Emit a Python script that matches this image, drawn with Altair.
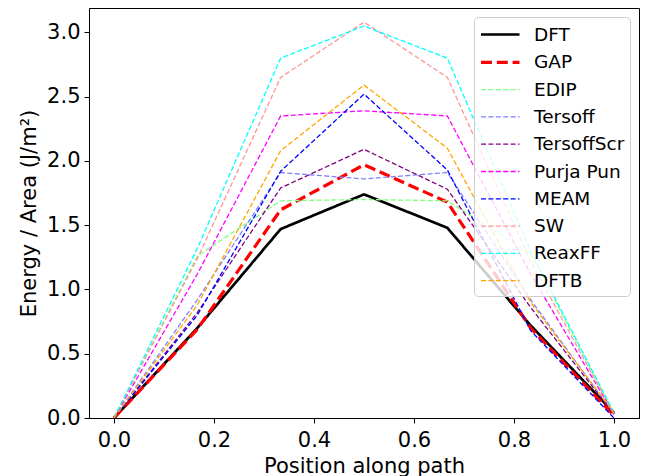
import altair as alt
import pandas as pd

positions = [0.0, 1/6, 1/3, 0.5, 2/3, 5/6, 1.0]
series_names = ["DFT", "GAP", "EDIP", "Tersoff", "TersoffScr",
                "Purja Pun", "MEAM", "SW", "ReaxFF", "DFTB"]

dft = [0.0, 0.70, 1.47, 1.74, 1.48, 0.72, 0.04]
gap = [0.0, 0.69, 1.62, 1.97, 1.68, 0.70, 0.02]
edip = [0.0, 1.26, 1.69, 1.70, 1.69, 1.28, 0.03]
tersoff = [0.0, 0.92, 1.91, 1.86, 1.91, 0.92, 0.03]
tersoffscr = [0.0, 0.82, 1.79, 2.09, 1.78, 0.86, 0.03]
purja = [0.0, 1.12, 2.35, 2.39, 2.35, 1.12, 0.03]
meam = [0.0, 0.80, 1.92, 2.52, 1.93, 0.68, 0.0]
sw = [0.0, 1.24, 2.65, 3.08, 2.65, 1.22, 0.03]
reaxff = [0.0, 1.32, 2.80, 3.05, 2.80, 1.30, 0.04]
dftb = [0.0, 0.88, 2.08, 2.59, 2.10, 0.90, 0.04]

all_values = [dft, gap, edip, tersoff, tersoffscr, purja, meam, sw, reaxff, dftb]

colors = ["#000000", "#ff0000", "#80ff80", "#8080ff", "#800080",
          "#ff00ff", "#0000ff", "#ff9696", "#00ffff", "#ffa500"]
widths = [2.7, 3.2, 1.3, 1.3, 1.3, 1.3, 1.3, 1.3, 1.3, 1.3]
dashes = [[1, 0], [11, 4.8]] + [[5, 2.4]] * 8

x_ticks = [0.0, 0.2, 0.4, 0.6, 0.8, 1.0]
y_ticks = [0.0, 0.5, 1.0, 1.5, 2.0, 2.5, 3.0]

rows = []
for name, vals in zip(series_names, all_values):
    for xv, yv in zip(positions, vals):
        rows.append({"series": name, "x": xv, "y": yv})
df = pd.DataFrame(rows)

FONT = "DejaVu Sans"
FS = 21
LFS = 18.5
legend = alt.Legend(
    title=None,
    orient="top-right",
    offset=9,
    symbolType="M-1,0H2.5",
    symbolSize=484,
    labelOffset=29,
    rowPadding=5.3,
    padding=5,
    fillColor="rgba(255,255,255,0.8)",
    strokeColor="#cccccc",
    cornerRadius=4,
    labelFontSize=LFS,
    labelFont=FONT,
    labelColor="black",
)

chart = alt.Chart(df).mark_line(clip=True).encode(
    x=alt.X("x:Q",
            scale=alt.Scale(domain=[-0.05, 1.05], nice=False, zero=False),
            axis=alt.Axis(values=x_ticks, format=".1f", title="Position along path",
                          titlePadding=5, labelPadding=6, labelFlush=False)),
    y=alt.Y("y:Q",
            scale=alt.Scale(domain=[0, 3.19], nice=False),
            axis=alt.Axis(values=y_ticks, format=".1f", title="Energy / Area (J/m²)",
                          titlePadding=7, labelPadding=4)),
    color=alt.Color("series:N", sort=series_names,
                    scale=alt.Scale(domain=series_names, range=colors),
                    legend=legend),
    strokeDash=alt.StrokeDash("series:N", sort=series_names,
                              scale=alt.Scale(domain=series_names, range=dashes),
                              legend=legend),
    strokeWidth=alt.StrokeWidth("series:N", sort=series_names,
                                scale=alt.Scale(type="ordinal", domain=series_names,
                                                range=widths),
                                legend=legend),
    order=alt.Order("x:Q"),
).properties(
    width=550,
    height=410,
    autosize=alt.AutoSizeParams(type="none"),
    padding={"left": 89, "top": 8, "right": 7, "bottom": 58},
).configure_view(
    stroke="black", strokeWidth=1
).configure_axis(
    grid=False,
    domainColor="black",
    domainWidth=1,
    tickColor="black",
    tickWidth=1,
    tickSize=5,
    labelColor="black",
    titleColor="black",
    labelFont=FONT,
    titleFont=FONT,
    labelFontSize=FS,
    titleFontSize=FS,
    titleFontWeight="normal",
)

chart.save("out.html", embed_options={"renderer": "svg", "actions": False})
